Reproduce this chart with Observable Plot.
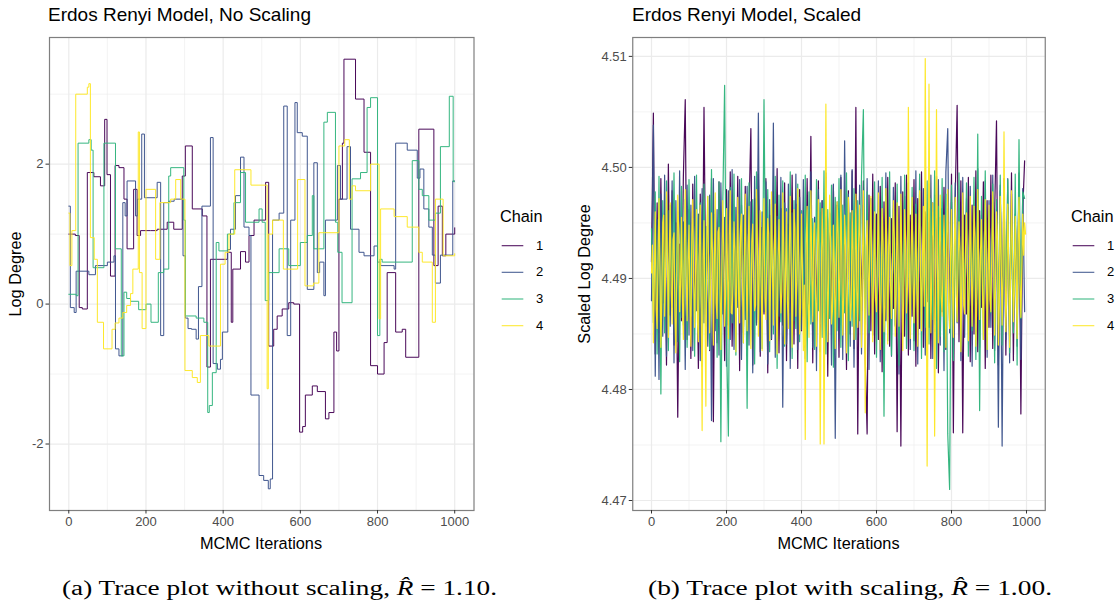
<!DOCTYPE html>
<html>
<head>
<meta charset="utf-8">
<script src="https://cdn.jsdelivr.net/npm/d3@7"></script>
<script src="https://cdn.jsdelivr.net/npm/@observablehq/plot@0.6"></script>
<style>
  html, body { margin: 0; padding: 0; background: #fff; }
  #root { position: relative; width: 1115px; height: 604px; background: #fff; overflow: hidden;
          font-family: "Liberation Sans", Arial, Helvetica, sans-serif; }
  .abs { position: absolute; white-space: nowrap; }
  .title { font-size: 19px; color: #000; line-height: 22px; }
  .axt { font-size: 16.3px; color: #000; line-height: 18px; }
  .legt { font-size: 16.3px; color: #000; line-height: 18px; }
  .legl { font-size: 13px; color: #000; line-height: 15px; }
</style>
</head>
<body>
<div id="root"></div>
<script>
// ---------------- DATA ----------------
const chains = ["1", "2", "3", "4"];
const chainColors = ["#440154", "#3B528B", "#2FB47C", "#FDE725"];
const xTicks = [0, 200, 400, 600, 800, 1000];
const xMinor = [100, 300, 500, 700, 900];
const leftYTicks = [-2, 0, 2];
const leftYMinor = [-1, 1, 3];
const rightYTicks = [4.47, 4.48, 4.49, 4.50, 4.51];
const rightYMinor = [4.475, 4.485, 4.495, 4.505];

// Left panel (no scaling): step traces as [iteration, log degree] change points
const leftChain1 = [[0,1.0],[17,0.98],[27,-0.05],[35,-0.07],[48,1.88],[65,1.82],[82,1.69],[93,2.64],[99,1.85],[108,0.4],[120,1.98],[130,1.95],[143,1.5],[151,0.79],[168,1.64],[177,0.98],[186,1.05],[212,1.05],[229,1.07],[255,1.17],[272,1.07],[294,1.83],[302,2.26],[320,1.36],[346,1.26],[358,-0.9],[367,0.64],[411,0.74],[421,-0.26],[425,0.5],[445,0.75],[458,0.6],[467,0.98],[480,1.2],[510,1.74],[518,-0.6],[531,-0.36],[540,-0.17],[553,-0.07],[570,0.02],[583,0.0],[598,-1.83],[606,-1.75],[613,-1.3],[631,-1.17],[644,-1.25],[665,-1.64],[674,-1.55],[687,-0.4],[694,-0.67],[700,1.5],[709,2.3],[713,3.5],[743,2.93],[765,2.17],[782,-0.88],[800,-1.0],[817,-0.55],[825,0.45],[847,-0.4],[864,-0.36],[873,-0.76],[907,2.5],[946,0.55],[957,1.4],[968,0.69],[977,1.0],[1000,1.09]];
const leftChain2 = [[0,1.4],[4,-0.05],[14,-0.12],[19,0.47],[52,0.42],[69,0.55],[100,0.6],[117,0.69],[121,-0.64],[130,-0.74],[140,1.45],[146,1.26],[151,1.76],[173,1.26],[178,1.5],[189,2.43],[196,1.52],[229,1.74],[238,-0.45],[246,1.45],[259,1.47],[273,1.5],[296,0.69],[302,-0.2],[309,-0.35],[318,-0.36],[330,-0.5],[336,0.25],[345,1.4],[367,2.38],[374,-0.85],[385,-0.93],[393,-0.79],[398,-0.4],[412,0.78],[419,1.07],[432,1.55],[445,2.1],[454,1.1],[467,0.98],[472,-1.3],[493,-2.45],[505,-2.52],[517,-2.64],[522,-2.5],[528,1.2],[545,1.3],[557,2.83],[566,-0.45],[575,1.2],[586,2.88],[592,2.45],[605,2.4],[618,0.21],[635,2.02],[644,0.45],[650,0.6],[661,0.12],[665,1.2],[696,1.98],[704,1.5],[721,2.25],[730,1.07],[752,0.74],[765,0.69],[791,0.83],[800,0.6],[808,0.55],[843,0.5],[847,2.3],[877,2.2],[903,1.8],[910,1.93],[920,1.36],[933,1.1],[942,0.7],[950,0.3],[963,0.7],[995,1.76],[1000,1.76]];
const leftChain3 = [[0,0.14],[19,0.12],[24,2.3],[52,2.35],[58,2.2],[63,0.52],[91,2.3],[121,0.79],[136,-0.74],[143,0.17],[150,0.08],[160,0.04],[181,-0.08],[200,0.0],[213,-0.26],[232,0.45],[246,0.5],[259,1.83],[264,1.95],[298,1.2],[302,-0.17],[330,-0.2],[350,-0.26],[360,-1.55],[364,-1.45],[372,-0.98],[382,0.88],[389,0.76],[411,1.0],[428,1.45],[445,1.88],[458,1.17],[493,1.36],[501,1.17],[509,0.05],[518,0.45],[545,0.79],[570,0.55],[600,0.88],[618,0.98],[631,1.55],[635,0.79],[661,2.6],[670,2.74],[691,1.17],[697,0.74],[708,0.02],[734,1.79],[756,1.88],[773,2.81],[782,2.95],[800,-0.45],[806,0.64],[812,0.6],[890,2.05],[907,1.64],[916,1.55],[933,1.2],[950,1.3],[963,2.25],[986,2.97],[996,1.75],[1000,1.75]];
const leftChain4 = [[0,1.3],[3,0.55],[8,1.05],[18,3.0],[48,3.1],[52,3.15],[56,0.95],[66,0.64],[74,-0.26],[90,-0.64],[112,-0.36],[120,-0.27],[130,-0.2],[140,-0.12],[150,-0.02],[160,0.15],[166,0.5],[180,2.46],[183,0.45],[190,-0.35],[200,1.64],[225,0.64],[236,1.45],[264,1.5],[277,1.78],[290,1.5],[301,-0.95],[320,-1.05],[333,-1.12],[341,-0.45],[363,-0.6],[393,0.57],[405,0.74],[415,1.0],[430,1.92],[472,1.7],[514,-1.21],[517,1.0],[528,1.2],[556,0.5],[593,1.78],[612,0.26],[634,0.3],[648,1.02],[700,2.26],[715,2.35],[727,1.5],[734,1.69],[743,1.62],[782,2.0],[804,-0.21],[808,1.36],[843,1.25],[877,1.1],[907,0.74],[916,0.6],[942,-0.26],[950,1.5],[970,0.69],[1000,0.72]];

// Right panel (scaled): values every 5 iterations (chain 4 also at the half steps)
const rightIters = d3.range(0, 1000, 5);
const rightChain1 = [
4.4915,4.5049,4.4832,4.4968,4.4851,4.4990,4.4878,4.4958,4.4822,4.5003,
4.4867,4.4979,4.4840,4.4950,4.4775,4.4931,4.4862,4.4992,4.5061,4.4845,
4.4962,4.4828,4.4985,4.4870,4.4941,4.4819,4.4976,4.4856,4.5054,4.4880,
4.4948,4.4835,4.4990,4.4771,4.4958,4.4842,4.4987,4.4865,4.4939,4.4826,
4.4980,4.4858,4.4996,4.4839,4.4951,4.4874,4.4992,4.4817,4.4966,4.4851,
4.4983,4.4836,4.4959,4.5035,4.4822,4.4972,4.4860,4.4994,4.4830,4.4946,
4.4868,4.4990,4.4815,4.4957,4.4845,4.4978,4.4872,4.4999,4.4833,4.4963,
4.4858,4.4986,4.4826,4.4949,4.4869,4.4993,4.4841,4.4967,4.4819,4.4980,
4.4853,4.4961,4.4838,4.4990,4.4877,4.5028,4.4824,4.4955,4.4862,4.4988,
4.4834,4.4970,4.4857,4.4995,4.4812,4.4959,4.4875,4.4984,4.4843,4.4966,
4.4829,4.4991,4.4866,4.4952,4.4818,4.4979,4.4850,4.4997,4.4837,4.5054,
4.4760,4.4963,4.4871,4.4988,4.4827,4.4760,4.4975,4.4853,4.4994,4.4832,
4.4958,4.4845,4.4983,4.4816,4.4969,4.4862,4.4991,4.4839,4.4954,4.4873,
4.4986,4.4762,4.4965,4.4749,4.4978,4.4848,4.4993,4.4831,4.4957,4.4866,
4.4989,4.4821,4.4972,4.4855,4.4996,4.4838,4.4960,4.4879,4.4985,4.4828,
4.4968,4.4852,4.4992,4.4815,4.4955,4.4870,4.4982,4.4836,4.4963,4.4859,
4.4994,4.4761,4.4975,4.5056,4.4843,4.4988,4.4761,4.4957,4.4868,4.4991,
4.4825,4.4966,4.4850,4.4997,4.4834,4.4961,4.4874,4.4987,4.4819,4.4970,
4.4856,4.4993,4.4837,4.4958,4.5042,4.4822,4.4979,4.4863,4.4990,4.4831,
4.4964,4.4848,4.4995,4.4826,4.4956,4.4871,4.4985,4.4778,4.4962,4.5006];
const rightChain2 = [
4.4880,4.5038,4.4812,4.4953,4.4809,4.4976,4.4848,4.4993,4.4830,4.4961,
4.4857,4.4988,4.4824,4.4970,4.4843,4.4997,4.4865,4.4951,4.4818,4.4984,
4.4849,4.4966,4.4835,4.4992,4.4871,4.4958,4.4826,4.4981,4.4860,4.4947,
4.4839,4.4975,4.4772,4.4990,4.4853,4.4962,4.4831,4.4986,4.4868,4.4955,
4.4821,4.4979,4.4845,4.4998,4.4836,4.4964,4.4874,4.4989,4.4827,4.4957,
4.4863,4.4983,4.4840,4.4969,4.4815,4.4992,4.4858,4.5049,4.4834,4.4960,
4.4870,4.4987,4.4823,4.4971,4.4846,4.5040,4.4829,4.4956,4.4866,4.4991,
4.4784,4.4968,4.4841,4.4985,4.4819,4.4959,4.4862,4.4994,4.4836,4.4973,
4.4854,4.4989,4.4828,4.4962,4.4872,4.4996,4.4838,4.4955,4.4817,4.4980,
4.4859,4.4970,4.4833,4.4991,4.4864,4.4958,4.4822,4.4985,4.4756,4.4969,
4.4846,4.4993,4.4827,4.5024,4.4861,4.4976,4.4839,4.4998,4.4820,4.4962,
4.4868,4.4984,4.4832,4.4966,4.4855,4.4990,4.4818,4.4972,4.4849,4.4957,
4.4873,4.4988,4.4825,4.4961,4.4842,4.4995,4.4866,4.4953,4.4830,4.4982,
4.4857,4.4967,4.4814,4.4992,4.4848,4.4974,4.4869,4.4986,4.4836,4.4960,
4.4844,4.4997,4.4823,4.4965,4.4870,4.4981,4.4831,4.4958,4.4856,4.4993,
4.4828,4.4975,4.4862,4.4989,4.4840,4.4963,4.4817,4.4996,4.5035,4.4851,
4.4969,4.4834,4.4986,4.4860,4.4955,4.4826,4.4991,4.4847,4.4972,4.4865,
4.4983,4.4821,4.4964,4.4852,4.4999,4.4838,4.4957,4.4873,4.4988,4.4829,
4.4970,4.4856,4.4993,4.4835,4.4962,4.4766,4.4984,4.4749,4.4967,4.4845,
4.4990,4.4824,4.4976,4.4861,4.4958,4.4839,4.4995,4.4827,4.4981,4.4870];
const rightChain3 = [
4.4945,4.4860,4.4978,4.4832,4.4992,4.4796,4.4970,4.4851,4.4988,4.4835,
4.4966,4.4874,4.4995,4.4842,4.4960,4.4825,4.4983,4.4858,4.4971,4.4838,
4.4989,4.4866,4.4954,4.4830,4.4993,4.4849,4.4968,4.4821,4.4985,4.4857,
4.4974,4.4836,4.4998,4.4868,4.4961,4.4829,4.4987,4.4753,4.4966,4.5074,
4.4846,4.4758,4.4982,4.4860,4.4994,4.4831,4.4958,4.4872,4.4990,4.4842,
4.4965,4.4783,4.4986,4.4854,4.4971,4.4823,4.4996,4.4863,4.4959,4.4837,
4.5061,4.4870,4.4980,4.4834,4.4967,4.4850,4.4992,4.4819,4.4975,4.4861,
4.4988,4.4839,4.4963,4.4873,4.4996,4.4828,4.4970,4.4855,4.4985,4.4843,
4.4961,4.4866,4.4993,4.4825,4.4978,4.4859,4.4954,4.4836,4.4989,4.4871,
4.4968,4.4847,4.4997,4.4832,4.4962,4.4864,4.4984,4.4820,4.4973,4.4853,
4.4990,4.4838,4.4966,4.4869,4.4995,4.4826,4.4959,4.4857,4.4981,4.4845,
4.4970,4.4862,4.4992,4.5052,4.4833,4.4978,4.4851,4.4964,4.4875,4.4987,
4.4829,4.4960,4.4868,4.4991,4.4776,4.4974,4.4844,4.4996,4.4831,4.4963,
4.4858,4.4985,4.4822,4.4969,4.4866,4.4993,4.4837,4.4957,4.4852,4.4982,
4.4835,4.4967,4.4870,4.4994,4.4828,4.4961,4.4856,4.4988,4.4841,4.4972,
4.4863,4.4997,4.4819,4.4965,4.4848,4.4990,4.4834,4.4976,4.4760,4.4710,
4.4984,4.4826,4.4968,4.4861,4.4995,4.4839,4.4958,4.4872,4.4986,4.4830,
4.4963,4.4853,4.4991,4.4827,4.5030,4.4781,4.4974,4.4845,4.4997,4.4836,
4.4960,4.4869,4.4985,4.4824,4.4971,4.4858,4.4993,4.4840,4.4966,4.4875,
4.4989,4.4833,4.4962,4.4851,4.4994,4.4822,4.5025,4.4864,4.4978,4.4972];
const rightChain4 = [
4.4905,4.4842,4.4960,4.4855,4.4972,4.4838,4.4950,4.4866,4.4978,4.4847,
4.4968,4.4859,4.4941,4.4833,4.4975,4.4870,4.4955,4.4845,4.4980,4.4862,
4.4948,4.4839,4.4971,4.4856,4.4962,4.4843,4.4966,4.4763,4.4952,4.4785,
4.4974,4.4851,4.4959,4.4840,4.4977,4.4864,4.4946,4.4836,4.4970,4.4857,
4.4963,4.4846,4.4979,4.4868,4.4951,4.4834,4.4973,4.4860,4.4958,4.4842,
4.4976,4.4853,4.4965,4.4837,4.4949,4.4871,4.4980,4.4848,4.4961,4.4835,
4.4972,4.4863,4.4954,4.4844,4.4978,4.4858,4.4967,4.4832,4.4953,4.4869,
4.4977,4.4841,4.4960,4.4855,4.4974,4.4838,4.4962,4.4866,4.4981,4.4850,
4.4958,4.4835,4.4755,4.4965,4.4847,4.4979,4.4861,4.4950,4.4839,4.4971,
4.4751,4.4963,4.4751,4.5057,4.4843,4.4975,4.4859,4.4948,4.4837,4.4969,
4.4865,4.4980,4.4849,4.4957,4.4833,4.4973,4.4862,4.4961,4.4845,4.4976,
4.4856,4.4966,4.4838,4.4979,4.4779,4.4952,4.4867,4.4974,4.4843,4.4960,
4.4870,4.4977,4.4836,4.4963,4.4852,4.4981,4.4841,4.4955,4.4864,4.4970,
4.4848,4.4968,4.4857,4.4976,4.4835,4.4962,4.4869,4.5054,4.4846,4.4973,
4.4860,4.4958,4.4839,4.4979,4.4853,4.4965,4.5098,4.4731,4.5075,4.4851,
4.4968,4.4758,4.5052,4.4842,4.4975,4.4866,4.4957,4.4838,4.4980,4.4855,
4.4962,4.4847,4.4973,4.4861,4.4951,4.4834,4.4977,4.4868,4.4959,4.4844,
4.4974,4.4857,4.4965,4.4839,4.4980,4.4863,4.4953,4.4845,4.4971,4.4836,
4.4966,4.4870,4.4978,4.4849,4.4960,4.4840,4.4974,4.4858,4.5032,4.4852,
4.4967,4.4838,4.4979,4.4861,4.4956,4.4846,4.4973,4.4865,4.4958,4.4950];
const rightChain4Half = [
4.4930,4.4898,4.4872,4.4921,4.4908,4.4881,4.4957,4.4903,4.4918,4.4926,
4.4889,4.4935,4.4866,4.4912,4.4944,4.4893,4.4879,4.4931,4.4902,4.4915,
4.4875,4.4940,4.4896,4.4909,4.4862,4.4927,4.4883,4.4918,4.4870,4.4936,
4.4901,4.4887,4.4923,4.4911,4.4878,4.4942,4.4895,4.4906,4.4929,4.4884,
4.4913,4.4938,4.4869,4.4897,4.4925,4.4908,4.4881,4.4946,4.4892,4.4917,
4.4904,4.4921,4.4886,4.4933,4.4899,4.4876,4.4928,4.4910,4.4894,4.4937,
4.4882,4.4915,4.4940,4.4896,4.4907,4.4924,4.4873,4.4919,4.4901,4.4888,
4.4932,4.4905,4.4879,4.4926,4.4912,4.4890,4.4945,4.4898,4.4920,4.4874,
4.4909,4.4894,4.4931,4.4877,4.4916,4.4903,4.4939,4.4885,4.4922,4.4900,
4.4891,4.4927,4.4883,4.4918,4.4906,4.4934,4.4871,4.4913,4.4897,4.4941,
4.4902,4.4919,4.4884,4.4930,4.4895,4.4911,4.4876,4.4924,4.4908,4.4889,
4.4936,4.4899,4.4917,4.4880,4.4928,4.4905,4.4943,4.4893,4.4914,4.4882,
4.4920,4.4907,4.4888,4.4933,4.4874,4.4915,4.4929,4.4896,4.4910,4.4938,
4.4885,4.4923,4.4901,4.4916,4.4879,4.4935,4.4892,4.4908,4.4925,4.4898,
4.4912,4.4887,4.4940,4.4904,4.4921,4.4875,4.4930,4.4889,4.4918,4.4906,
4.4934,4.4894,4.4911,4.4927,4.4883,4.4915,4.4902,4.4939,4.4878,4.4920,
4.4897,4.4931,4.4886,4.4913,4.4924,4.4900,4.4876,4.4929,4.4909,4.4893,
4.4918,4.4905,4.4937,4.4882,4.4914,4.4926,4.4890,4.4907,4.4933,4.4899,
4.4881,4.4922,4.4910,4.4896,4.4935,4.4877,4.4919,4.4903,4.4928,4.4892,
4.4914,4.4900,4.4925,4.4887,4.4912,4.4931,4.4895,4.4908,4.4921,4.4940];

// ---------------- BUILD TABLES ----------------
const leftSeries = [leftChain1, leftChain2, leftChain3, leftChain4];
const leftData = leftSeries.flatMap((s, i) => s.map(([it, v]) => ({chain: chains[i], iter: it, value: v})));
const rightSeries = [rightChain1, rightChain2, rightChain3];
const rightData = rightSeries.flatMap((s, i) => s.map((v, j) => ({chain: chains[i], iter: rightIters[j], value: v})));
rightChain4.forEach((v, j) => {
  rightData.push({chain: "4", iter: rightIters[j], value: v});
  rightData.push({chain: "4", iter: rightIters[j] + 2.5, value: rightChain4Half[j]});
});

function panel({data, yDomain, yTicks, yMinor, tickFormat, curve, lineWidth, width, marginLeft, marginRight}) {
  return Plot.plot({
    width, height: 560,
    marginLeft, marginRight, marginTop: 37, marginBottom: 50,
    style: {fontFamily: '"Liberation Sans", Arial, Helvetica, sans-serif', fontSize: "13px", background: "transparent", color: "#4D4D4D", overflow: "visible"},
    x: {domain: [-50, 1050]},
    y: {domain: yDomain},
    color: {domain: chains, range: chainColors},
    marks: [
      Plot.gridY(yMinor, {stroke: "#EBEBEB", strokeOpacity: 1, strokeWidth: 0.6}),
      Plot.gridX(xMinor, {stroke: "#EBEBEB", strokeOpacity: 1, strokeWidth: 0.6}),
      Plot.gridY(yTicks, {stroke: "#EBEBEB", strokeOpacity: 1, strokeWidth: 1.2}),
      Plot.gridX(xTicks, {stroke: "#EBEBEB", strokeOpacity: 1, strokeWidth: 1.2}),
      Plot.line(data, {x: "iter", y: "value", z: "chain", stroke: "chain", curve, strokeWidth: lineWidth, strokeOpacity: 0.97}),
      Plot.frame({stroke: "#7F7F7F", strokeWidth: 1.2}),
      Plot.axisX(xTicks, {tickSize: 3.5, tickPadding: 3, label: null, tickFormat: d => String(d), stroke: "#333333", fill: "#4D4D4D"}),
      Plot.axisY(yTicks, {tickSize: 3.5, tickPadding: 2.5, label: null, tickFormat, stroke: "#333333", fill: "#4D4D4D"})
    ]
  });
}

const root = document.getElementById("root");
function place(el, left, top) {
  el.style.position = "absolute"; el.style.left = left + "px"; el.style.top = top + "px";
  root.appendChild(el);
}
function text(html, cls, left, top, extra) {
  const d = document.createElement("div");
  d.className = "abs " + cls; d.innerHTML = html;
  d.style.left = left + "px"; d.style.top = top + "px";
  if (extra) Object.assign(d.style, extra);
  root.appendChild(d); return d;
}

const leftPlot = panel({data: leftData, yDomain: [-2.95, 3.81], yTicks: leftYTicks, yMinor: leftYMinor,
  tickFormat: d => String(d), curve: "step-after", lineWidth: 1, width: 480, marginLeft: 49, marginRight: 6.5});
place(leftPlot, 0, 0);
const rightPlot = panel({data: rightData, yDomain: [4.4691, 4.5117], yTicks: rightYTicks, yMinor: rightYMinor,
  tickFormat: d => d.toFixed(2), curve: "linear", lineWidth: 1.2, width: 490, marginLeft: 72.25, marginRight: 5.25});
place(rightPlot, 560, 0);

// titles
text("Erdos Renyi Model, No Scaling", "title", 48, 4);
text("Erdos Renyi Model, Scaled", "title", 632, 4);
// axis titles
text("MCMC Iterations", "axt", 261, 534, {transform: "translateX(-50%)"});
text("MCMC Iterations", "axt", 838.5, 534, {transform: "translateX(-50%)"});
text("Log Degree", "axt", 15, 273.5, {transform: "translate(-50%, -50%) rotate(-90deg)"});
text("Scaled Log Degree", "axt", 584, 273.5, {transform: "translate(-50%, -50%) rotate(-90deg)"});

// legends
function legend(x0) {
  text("Chain", "legt", x0, 207);
  const svg = d3.create("svg").attr("width", 30).attr("height", 130);
  const ys = [245.7, 272.3, 299, 325.7];
  chains.forEach((c, i) => {
    svg.append("line").attr("x1", 1.7).attr("x2", 23.3).attr("y1", ys[i] - 200).attr("y2", ys[i] - 200)
      .attr("stroke", chainColors[i]).attr("stroke-width", 1.1).attr("stroke-opacity", 0.92);
    text(c, "legl", x0 + 36, ys[i] - 8);
  });
  place(svg.node(), x0, 200);
}
legend(500);
legend(1071);

// captions
const cap = d3.create("svg").attr("width", 1115).attr("height", 40)
  .style("font-family", '"Liberation Serif", "Times New Roman", serif');
function caption(x, len, label, rhat) {
  const t = cap.append("text").attr("x", x).attr("y", 29).attr("font-size", 20.5).attr("fill", "#000")
    .attr("textLength", len).attr("lengthAdjust", "spacingAndGlyphs");
  t.append("tspan").text(label + ", ");
  t.append("tspan").attr("font-style", "italic").text("R\u0302");
  t.append("tspan").text(" = " + rhat + ".");
}
caption(62, 435, "(a) Trace plot without scaling", "1.10");
caption(648, 404, "(b) Trace plot with scaling", "1.00");
place(cap.node(), 0, 566);
</script>
</body>
</html>
